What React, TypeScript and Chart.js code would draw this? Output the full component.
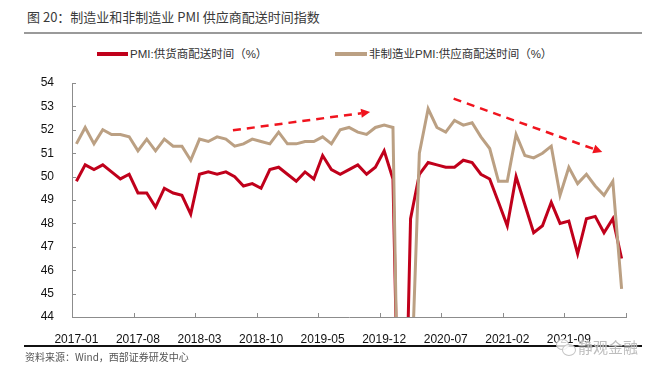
import React, { useEffect, useRef } from 'react';
import { Chart, registerables } from 'chart.js';

Chart.register(...registerables);

const months: string[] = [
  '2017-01', '2017-02', '2017-03', '2017-04', '2017-05', '2017-06', '2017-07', '2017-08', '2017-09', '2017-10', '2017-11', '2017-12',
  '2018-01', '2018-02', '2018-03', '2018-04', '2018-05', '2018-06', '2018-07', '2018-08', '2018-09', '2018-10', '2018-11', '2018-12',
  '2019-01', '2019-02', '2019-03', '2019-04', '2019-05', '2019-06', '2019-07', '2019-08', '2019-09', '2019-10', '2019-11', '2019-12',
  '2020-01', '2020-02', '2020-03', '2020-04', '2020-05', '2020-06', '2020-07', '2020-08', '2020-09', '2020-10', '2020-11', '2020-12',
  '2021-01', '2021-02', '2021-03', '2021-04', '2021-05', '2021-06', '2021-07', '2021-08', '2021-09', '2021-10', '2021-11', '2021-12',
  '2022-01', '2022-02', '2022-03',
];

const shownTickLabels: string[] = [
  '2017-01', '2017-08', '2018-03', '2018-10', '2019-05', '2019-12', '2020-07', '2021-02', '2021-09',
];

// PMI: 供货商配送时间 (manufacturing)
const mfgDelivery: number[] = [
  49.8, 50.5, 50.3, 50.5, 50.2, 49.9, 50.1, 49.3, 49.3, 48.7, 49.5, 49.3,
  49.2, 48.4, 50.1, 50.2, 50.1, 50.2, 50.0, 49.6, 49.7, 49.5, 50.3, 50.4,
  50.1, 49.8, 50.2, 49.9, 50.9, 50.3, 50.1, 50.3, 50.5, 50.1, 50.4, 51.1,
  49.9, 32.1, 48.2, 50.1, 50.6, 50.5, 50.4, 50.4, 50.7, 50.6, 50.1, 49.9,
  48.9, 47.9, 50.0, 48.8, 47.6, 47.9, 48.9, 48.0, 48.1, 46.7, 48.2, 48.3,
  47.6, 48.2, 46.5,
];

// 非制造业PMI: 供应商配送时间
const nonMfgDelivery: number[] = [
  51.4, 52.1, 51.4, 52.0, 51.8, 51.8, 51.7, 51.1, 51.6, 51.1, 51.6, 51.3,
  51.3, 50.7, 51.6, 51.5, 51.7, 51.6, 51.3, 51.4, 51.6, 51.5, 51.4, 51.9,
  51.4, 51.4, 51.5, 51.5, 51.7, 51.4, 52.0, 52.1, 51.9, 51.8, 52.1, 52.2,
  52.1, 29.6, 40.2, 51.0, 52.9, 52.1, 51.9, 52.4, 52.2, 52.3, 51.7, 51.2,
  49.8, 49.8, 51.8, 50.9, 50.8, 51.0, 51.3, 49.2, 50.4, 49.7, 50.1, 49.6,
  49.2, 49.8, 45.2,
];

const yTickValues: number[] = [44, 45, 46, 47, 48, 49, 50, 51, 52, 53, 54];

// trend arrows in data space: [index, value]
const trendArrowStarts: number[][] = [[17.8, 51.98], [42.9, 53.33]];
const trendArrowEnds: number[][] = [[33.4, 52.76], [59.8, 51.05]];

const RED = '#C0001B';
const TAN = '#BBA083';
const AXIS = '#8c8c8c';

export default function App() {
  const canvasRef = useRef<HTMLCanvasElement>(null);

  useEffect(() => {
    const canvas = canvasRef.current;
    if (!canvas) return;

    const decor = {
      id: 'decor',
      afterDatasetsDraw(chart: any) {
        const { ctx } = chart;
        const xs = chart.scales.x;
        const ys = chart.scales.y;
        ctx.save();
        ctx.strokeStyle = '#F0141E';
        ctx.fillStyle = '#F0141E';
        ctx.lineWidth = 2.5;
        for (let k = 0; k < trendArrowStarts.length; k++) {
          const x0 = xs.getPixelForValue(trendArrowStarts[k][0]);
          const y0 = ys.getPixelForValue(trendArrowStarts[k][1]);
          const x1 = xs.getPixelForValue(trendArrowEnds[k][0]);
          const y1 = ys.getPixelForValue(trendArrowEnds[k][1]);
          const ang = Math.atan2(y1 - y0, x1 - x0);
          const head = 9;
          const bx = x1 - head * Math.cos(ang);
          const by = y1 - head * Math.sin(ang);
          ctx.setLineDash([8, 6]);
          ctx.beginPath();
          ctx.moveTo(x0, y0);
          ctx.lineTo(bx, by);
          ctx.stroke();
          ctx.setLineDash([]);
          ctx.beginPath();
          ctx.moveTo(x1, y1);
          ctx.lineTo(bx + 4.5 * Math.sin(ang), by - 4.5 * Math.cos(ang));
          ctx.lineTo(bx - 4.5 * Math.sin(ang), by + 4.5 * Math.cos(ang));
          ctx.closePath();
          ctx.fill();
        }
        ctx.restore();
      },
      afterDraw(chart: any) {
        const { ctx } = chart;
        const xs = chart.scales.x;
        const ys = chart.scales.y;
        ctx.save();
        ctx.strokeStyle = AXIS;
        ctx.lineWidth = 1;
        ctx.beginPath();
        for (let i = 0; i <= months.length; i += 7) {
          const px = Math.round(xs.getPixelForValue(i - 0.5)) + 0.5;
          ctx.moveTo(px, ys.bottom);
          ctx.lineTo(px, ys.bottom - 4);
        }
        yTickValues.forEach((v) => {
          const py = Math.round(ys.getPixelForValue(v)) + 0.5;
          ctx.moveTo(xs.left, py);
          ctx.lineTo(xs.left + 4, py);
        });
        ctx.stroke();
        ctx.restore();
      },
    };

    const chart = new Chart(canvas, {
      type: 'line',
      data: {
        labels: months,
        datasets: [
          {
            label: 'PMI:供货商配送时间（%）',
            data: mfgDelivery,
            borderColor: RED,
            backgroundColor: RED,
            borderWidth: 3,
            pointRadius: 0,
            tension: 0,
            order: 1,
            clip: { left: 5, right: 5, top: 5, bottom: 0 },
          },
          {
            label: '非制造业PMI:供应商配送时间（%）',
            data: nonMfgDelivery,
            borderColor: TAN,
            backgroundColor: TAN,
            borderWidth: 3,
            pointRadius: 0,
            tension: 0,
            order: 0,
            clip: { left: 5, right: 5, top: 5, bottom: 0 },
          },
        ],
      },
      options: {
        responsive: false,
        animation: false,
        events: [],
        layout: { padding: { left: 32, right: 31, top: 83, bottom: 0 } },
        plugins: {
          legend: { display: false },
          title: { display: false },
          tooltip: { enabled: false },
        },
        scales: {
          x: {
            type: 'category',
            offset: true,
            grid: { display: false },
            border: { display: true, color: AXIS, width: 1 },
            ticks: {
              autoSkip: false,
              maxRotation: 0,
              minRotation: 0,
              color: '#111',
              padding: 7,
              font: { family: '"Liberation Sans", Arial, sans-serif', size: 12 },
              callback: (value: any) => {
                const l = months[value as number];
                return shownTickLabels.includes(l) ? l : '';
              },
            },
            afterFit: (s: any) => {
              s.height = 60;
            },
          },
          y: {
            min: 44,
            max: 54,
            grid: { display: false },
            border: { display: true, color: AXIS, width: 1 },
            ticks: {
              stepSize: 1,
              color: '#111',
              padding: 10,
              font: { family: '"Liberation Sans", Arial, sans-serif', size: 12 },
            },
            afterFit: (s: any) => {
              s.width = 40;
            },
          },
        },
      },
      plugins: [decor],
    });

    return () => chart.destroy();
  }, []);

  const cjk = '"Liberation Sans", "Noto Sans CJK SC", sans-serif';

  return (
    <div
      style={{
        position: 'fixed',
        left: 0,
        top: 0,
        width: 657,
        height: 377,
        background: '#fff',
        overflow: 'hidden',
        fontFamily: cjk,
      }}
    >
      <div
        style={{
          position: 'absolute',
          left: 27,
          top: 7,
          fontSize: 13,
          letterSpacing: 0,
          color: '#3a3a3a',
          fontFamily: '"Noto Sans CJK SC", sans-serif',
          whiteSpace: 'nowrap',
          lineHeight: '20px',
        }}
      >
        图 20：制造业和非制造业 PMI 供应商配送时间指数
      </div>
      <div style={{ position: 'absolute', left: 24, top: 32, width: 618, height: 2, background: '#9a9a9a' }} />

      <div style={{ position: 'absolute', left: 97, top: 52, width: 31, height: 4, background: RED }} />
      <div
        style={{
          position: 'absolute',
          left: 130,
          top: 45,
          fontSize: 11.5,
          lineHeight: '18px',
          color: '#333',
          whiteSpace: 'nowrap',
        }}
      >
        PMI:供货商配送时间（%）
      </div>
      <div style={{ position: 'absolute', left: 335, top: 52, width: 32, height: 4, background: TAN }} />
      <div
        style={{
          position: 'absolute',
          left: 369,
          top: 45,
          fontSize: 11.5,
          lineHeight: '18px',
          color: '#333',
          whiteSpace: 'nowrap',
        }}
      >
        非制造业PMI:供应商配送时间（%）
      </div>

      <canvas
        ref={canvasRef}
        width={657}
        height={377}
        style={{ position: 'absolute', left: 0, top: 0, width: 657, height: 377 }}
      />

      <div style={{ position: 'absolute', left: 24, top: 345, width: 618, height: 2, background: '#111' }} />
      <div
        style={{
          position: 'absolute',
          left: 25,
          top: 350,
          fontSize: 10,
          lineHeight: '14px',
          color: '#555',
          whiteSpace: 'nowrap',
          fontFamily: '"Noto Sans CJK SC", sans-serif',
        }}
      >
        资料来源：Wind，西部证券研发中心
      </div>

      <div
        style={{
          position: 'absolute',
          left: 556,
          top: 339,
          width: 11,
          height: 9,
          borderRadius: '50%',
          border: '1.5px solid #c4c4c4',
          background: 'rgba(255,255,255,0.8)',
        }}
      />
      <div
        style={{
          position: 'absolute',
          left: 562,
          top: 344,
          width: 12,
          height: 10,
          borderRadius: '50%',
          border: '1.5px solid #c4c4c4',
          background: 'rgba(255,255,255,0.8)',
        }}
      />
      <div
        style={{
          position: 'absolute',
          left: 578,
          top: 337,
          fontSize: 15,
          lineHeight: '20px',
          color: '#bdbdbd',
          whiteSpace: 'nowrap',
          fontFamily: '"Noto Sans CJK SC", sans-serif',
          textShadow: '0 0 2px #fff',
        }}
      >
        静观金融
      </div>
    </div>
  );
}
